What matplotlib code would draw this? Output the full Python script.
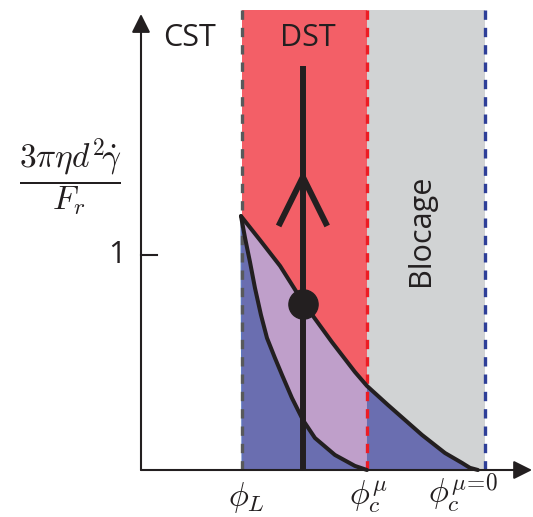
import numpy as np
import matplotlib
matplotlib.use('Agg')
import matplotlib.pyplot as plt

plt.rcParams['mathtext.fontset'] = 'cm'
plt.rcParams['font.family'] = ['Open Sans', 'DejaVu Sans']

# positions of the characteristic packing fractions (schematic units)
phi_L = 0.47
phi_c_mu = 1.05
phi_c_0 = 1.60
tick_labels = [r'$\phi_L$', r'$\phi_c^{\mu}$', r'$\phi_c^{\mu\!=\!0}$']
top = 2.14

# upper curve
upper_x = [0.465, 0.553, 0.647, 0.753, 0.888, 0.995, 1.051, 1.149, 1.307, 1.414, 1.493, 1.530, 1.567]
upper_y = [1.181, 1.070, 0.949, 0.781, 0.595, 0.456, 0.391, 0.302, 0.163, 0.079, 0.033, 0.010, 0.0]

# lower curve
lower_x = [0.465, 0.484, 0.507, 0.530, 0.558, 0.586, 0.623, 0.656, 0.702, 0.753, 0.809, 0.902, 0.995, 1.051]
lower_y = [1.181, 1.079, 0.967, 0.847, 0.721, 0.614, 0.521, 0.442, 0.335, 0.233, 0.149, 0.070, 0.019, 0.0]

# operating point and path
path_x = 0.753
path_top = 1.879
dot_y = 0.772
chevron_x = [0.640, 0.753, 0.866]
chevron_y = [1.135, 1.363, 1.135]

black = '#231f20'
red = '#f35f67'
grey = '#d1d3d4'
blue = '#6a6eb0'
purple = '#bf9fca'

fig = plt.figure(figsize=(5.33, 5.17), dpi=100)
ax = fig.add_axes([0, 0, 1, 1])
ax.set_xlim(-141 / 215, 392 / 215)
ax.set_ylim(-47 / 215, 470 / 215)
ax.axis('off')

# regions
ax.fill_between([phi_L, phi_c_mu], 0, top, color=red, lw=0, zorder=1)
ax.fill_between([phi_c_mu, phi_c_0], 0, top, color=grey, lw=0, zorder=1)

# blue under upper curve
ax.fill(upper_x + [phi_L], upper_y + [0], color=blue, lw=0.8, ec='#5b78c0', zorder=2)
# purple between curves (left of phi_c_mu)
n = upper_x.index(1.051) + 1
px = upper_x[:n] + lower_x[::-1]
py = upper_y[:n] + lower_y[::-1]
ax.fill(px, py, color=purple, lw=0, zorder=3)

# dashed boundaries
ax.plot([phi_L, phi_L], [0, top], color='#58595b', lw=2.4, dashes=[2.8, 2.4], zorder=4)
ax.plot([phi_c_mu, phi_c_mu], [0, top], color='#ed1c24', lw=2.4, dashes=[2.8, 2.4], zorder=4)
ax.plot([phi_c_0, phi_c_0], [0, top], color='#2e3f98', lw=2.4, dashes=[2.8, 2.4], zorder=4)

# curves
ax.plot(upper_x, upper_y, color=black, lw=2.9, solid_capstyle='round', zorder=5)
ax.plot(lower_x, lower_y, color=black, lw=2.9, solid_capstyle='round', zorder=5)

# path with chevron and dot
ax.plot([path_x, path_x], [0, path_top], color=black, lw=4.3, solid_capstyle='butt', zorder=6)
ax.plot(chevron_x, chevron_y, color=black, lw=4.3, solid_capstyle='butt',
        solid_joinstyle='miter', zorder=6)
ax.plot([path_x], [dot_y], 'o', color=black, ms=21, zorder=7)

# axes with arrows
ax.annotate('', xy=(1.819, 0), xytext=(0, 0),
            arrowprops=dict(arrowstyle='-|>', color=black, lw=1.5, mutation_scale=28,
                            shrinkA=0, shrinkB=0), zorder=8)
ax.annotate('', xy=(0, 2.121), xytext=(0, 0),
            arrowprops=dict(arrowstyle='-|>', color=black, lw=1.5, mutation_scale=28,
                            shrinkA=0, shrinkB=0), zorder=8)
ax.plot([0, 0.074], [1, 1], color=black, lw=1.5)
ax.text(-0.112, 1, '1', fontsize=22, ha='center', va='center', color=black)

# labels
ax.text(0.228, 2.009, 'CST', fontsize=22, ha='center', va='center', color=black)
ax.text(0.777, 2.009, 'DST', fontsize=22, ha='center', va='center', color=black, zorder=9)
ax.text(1.302, 1.116, 'Blocage', fontsize=22, ha='center', va='center', rotation=90,
        color=black, zorder=9)
ax.text(-0.330, 1.36, r'$\dfrac{3\pi\eta d^2\!\dot{\gamma}}{F_r}$', fontsize=24,
        ha='center', va='center', color=black)

for xpos, ypos, lab in zip([phi_L + 0.02, phi_c_mu + 0.01, phi_c_0 - 0.1],
                           [-0.13, -0.125, -0.11], tick_labels):
    ax.text(xpos, ypos, lab, fontsize=24, ha='center', va='center', color=black)

fig.savefig('out.png', dpi=100)
